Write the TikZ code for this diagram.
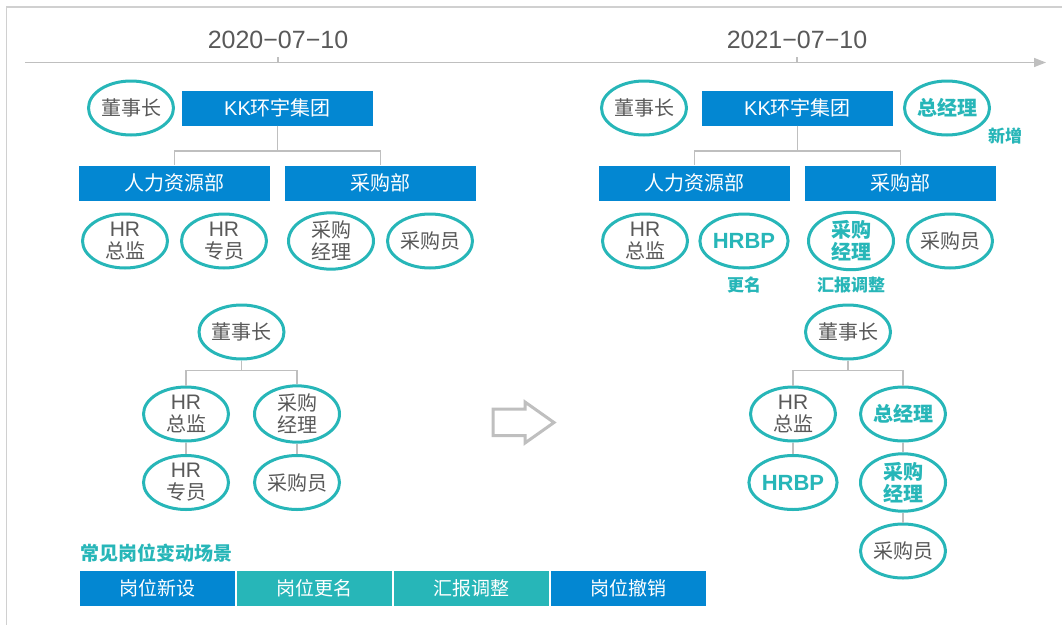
\documentclass[tikz,border=0pt]{standalone}
\usepackage{fontspec}
\setmainfont{Noto Sans CJK SC}
\newfontfamily\latin{Liberation Sans}
\usetikzlibrary{shapes.geometric,arrows.meta}
\definecolor{cblue}{HTML}{0387D2}
\definecolor{cteal}{HTML}{27B6B8}
\definecolor{ctext}{HTML}{595959}
\definecolor{cline}{HTML}{BFBFBF}
\definecolor{cframe}{HTML}{D0D0D0}
\newcommand{\hrtxt}{{\latin\fontsize{21}{22}\selectfont HR}}
\tikzset{
  posn/.style={ellipse, draw=cteal, line width=3pt, minimum width=85pt, minimum height=54pt,
    inner sep=0pt, align=center, text=ctext, font=\fontsize{20}{22}\selectfont},
  newposn/.style={posn, text=cteal, font=\fontsize{20}{22}\selectfont\bfseries},
  dept/.style={rectangle, fill=cblue, minimum width=191pt, minimum height=35pt, inner sep=0pt,
    text=white, font=\fontsize{20}{22}\selectfont},
  conn/.style={draw=cline, line width=1.8pt},
  note/.style={text=cteal, font=\fontsize{17}{18}\selectfont\bfseries, inner sep=0pt},
  tabbox/.style={rectangle, minimum width=155pt, minimum height=35pt, inner sep=0pt,
    text=white, font=\fontsize{19}{22}\selectfont},
  datelbl/.style={text=ctext, font=\latin\fontsize{25}{28}\selectfont, inner sep=0pt}
}
\begin{document}
\begin{tikzpicture}[x=1pt, y=-1pt]
\useasboundingbox (0,0) rectangle (1062,624);
% frame
\draw[cframe, line width=1.5pt] (6.5,640) -- (6.5,7) -- (1080,7);
% timeline
\coordinate (tl0) at (25,62.5);
\coordinate (tl1) at (1046,62.5);
\draw[cline, line width=1.5pt, -{Triangle[length=12pt,width=9pt]}] (tl0) -- (tl1);
\coordinate (t1) at (278,62.5);
\coordinate (t2) at (797,62.5);
\draw[cline, line width=1.2pt] (t1) -- ++(0,-6);
\draw[cline, line width=1.2pt] (t2) -- ++(0,-6);
\node[datelbl] (d1) at (278,40) {2020−07−10};
\node[datelbl] (d2) at (797,40) {2021−07−10};

% ---------- top-left ----------
\node[posn] (a_ceo) at (131,108) {董事长};
\node[dept] (a_kk) at (277.5,108) {{\latin KK}环宇集团};
\node[dept] (a_hr) at (174.5,183) {人力资源部};
\node[dept] (a_cg) at (380.5,183) {采购部};
\draw[conn] (a_kk.south) -- ++(0,25) -| (a_hr.north);
\draw[conn] (a_kk.south) -- ++(0,25) -| (a_cg.north);
\node[posn] (a_hrd) at (125,241) {\hrtxt\\总监};
\node[posn] (a_hrs) at (224,241) {\hrtxt\\专员};
\node[posn] (a_cgm) at (331,241) {采购\\经理};
\node[posn] (a_cgy) at (430,241) {采购员};

% ---------- top-right ----------
\node[posn] (b_ceo) at (644,108) {董事长};
\node[dept] (b_kk) at (797.5,108) {{\latin KK}环宇集团};
\node[newposn] (b_gm) at (947,108) {总经理};
\node[note] (b_new) at (1005,136) {新增};
\node[dept] (b_hr) at (694.5,183) {人力资源部};
\node[dept] (b_cg) at (900.5,183) {采购部};
\draw[conn] (b_kk.south) -- ++(0,25) -| (b_hr.north);
\draw[conn] (b_kk.south) -- ++(0,25) -| (b_cg.north);
\node[posn] (b_hrd) at (645,241) {\hrtxt\\总监};
\node[newposn, font=\latin\fontsize{22}{22}\selectfont\bfseries] (b_hrbp) at (744,241) {HRBP};
\node[newposn] (b_cgm) at (851,241) {采购\\经理};
\node[posn] (b_cgy) at (950,241) {采购员};
\node[note] (b_rn) at (744,285) {更名};
\node[note] (b_rp) at (851,285) {汇报调整};

% ---------- bottom-left ----------
\node[posn] (c_ceo) at (241.5,332) {董事长};
\node[posn] (c_hrd) at (186,414) {\hrtxt\\总监};
\node[posn] (c_cgm) at (297,414) {采购\\经理};
\node[posn] (c_hrs) at (186,482.5) {\hrtxt\\专员};
\node[posn] (c_cgy) at (297,482.5) {采购员};
\draw[conn] (c_ceo.south) -- ++(0,10) -| (c_hrd.north);
\draw[conn] (c_ceo.south) -- ++(0,10) -| (c_cgm.north);
\draw[conn] (c_hrd.south) -- (c_hrs.north);
\draw[conn] (c_cgm.south) -- (c_cgy.north);

% ---------- middle arrow ----------
\draw[cline, line width=3pt, fill=white, line join=miter]
  (493,409) -- (525,409) -- (525,402) -- (554,422.5) -- (525,443) -- (525,435.5) -- (493,435.5) -- cycle;

% ---------- bottom-right ----------
\node[posn] (e_ceo) at (848,332) {董事长};
\node[posn] (e_hrd) at (793,414) {\hrtxt\\总监};
\node[newposn] (e_gm) at (903,414) {总经理};
\node[newposn, font=\latin\fontsize{22}{22}\selectfont\bfseries] (e_hrbp) at (793,482.5) {HRBP};
\node[newposn] (e_cgm) at (903,482.5) {采购\\经理};
\node[posn] (e_cgy) at (903,551) {采购员};
\draw[conn] (e_ceo.south) -- ++(0,10) -| (e_hrd.north);
\draw[conn] (e_ceo.south) -- ++(0,10) -| (e_gm.north);
\draw[conn] (e_hrd.south) -- (e_hrbp.north);
\draw[conn] (e_gm.south) -- (e_cgm.north);
\draw[conn] (e_cgm.south) -- (e_cgy.north);

% ---------- legend ----------
\node[note, anchor=west, font=\fontsize{19}{20}\selectfont\bfseries] (ttl) at (80,553) {常见岗位变动场景};
\node[tabbox, fill=cblue] (tab1) at (157.5,588.5) {岗位新设};
\node[tabbox, fill=cteal] (tab2) at (314,588.5) {岗位更名};
\node[tabbox, fill=cteal] (tab3) at (471,588.5) {汇报调整};
\node[tabbox, fill=cblue] (tab4) at (628,588.5) {岗位撤销};
\end{tikzpicture}
\end{document}
